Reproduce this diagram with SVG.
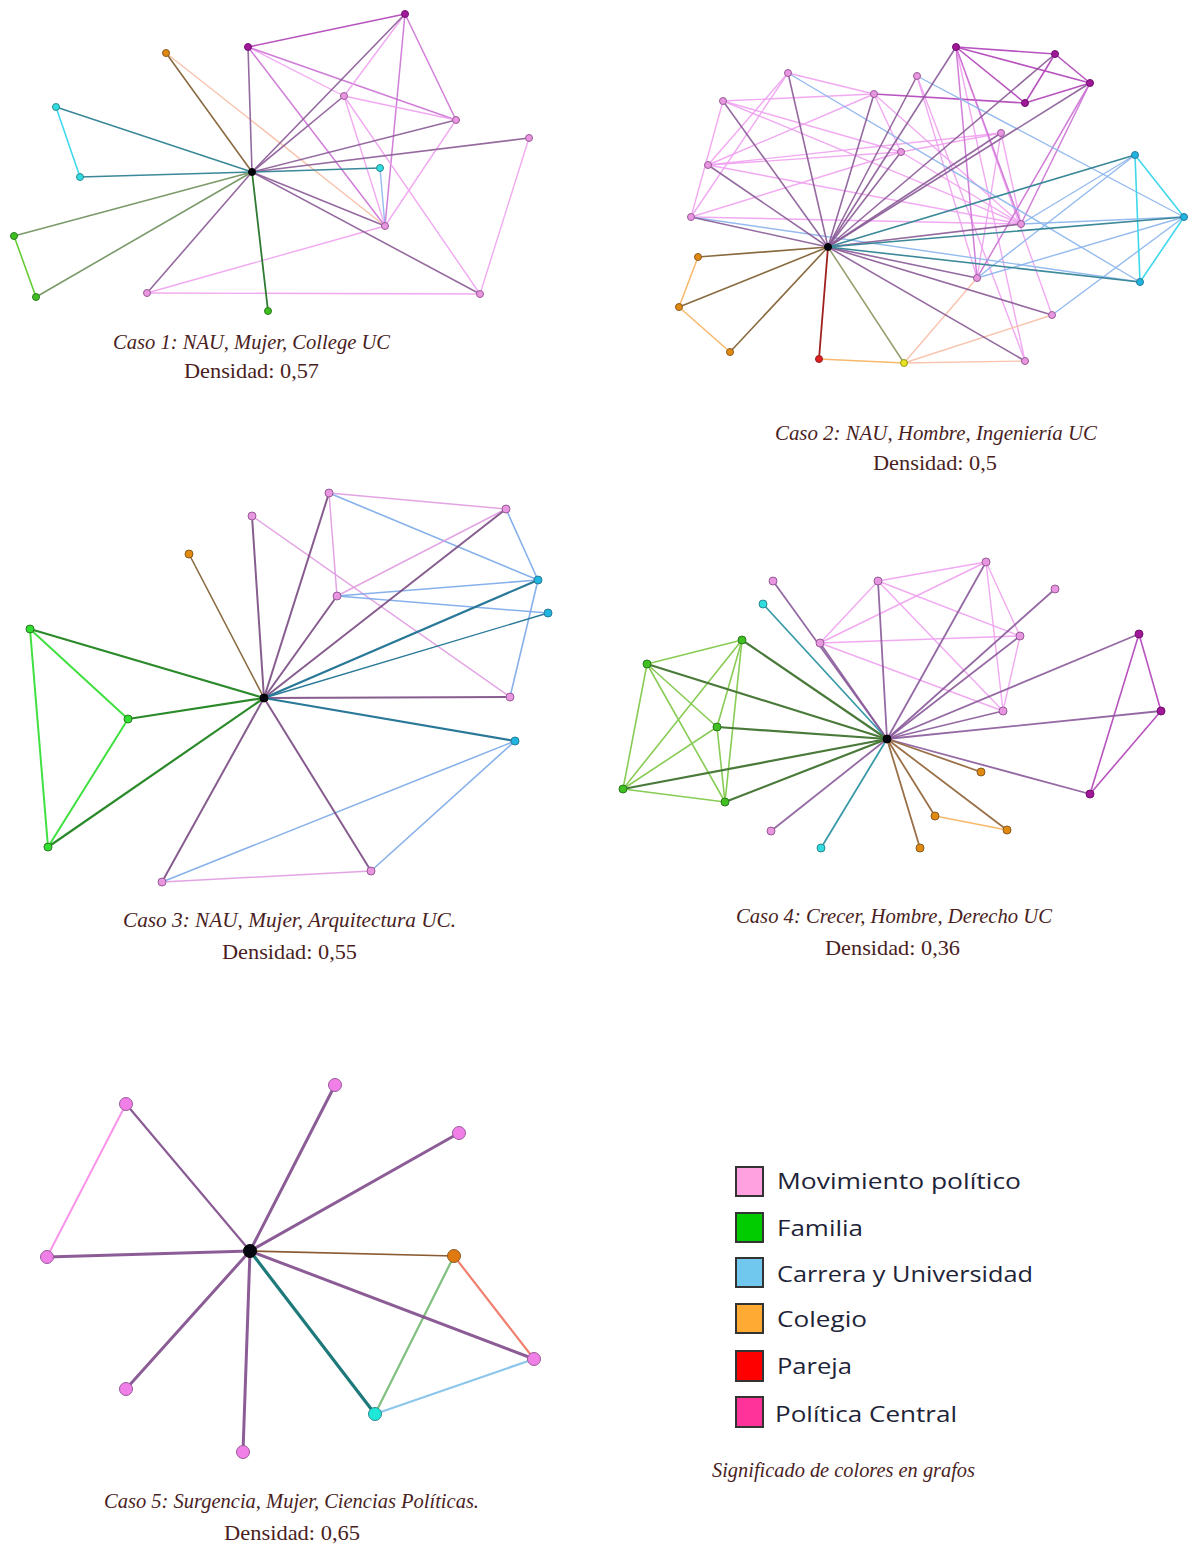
<svg xmlns="http://www.w3.org/2000/svg" width="1189" height="1546" viewBox="0 0 1189 1546">
<style>
line{fill:none;stroke-linecap:round}
.pu{stroke:#8a5a96;stroke-width:1.6;opacity:.9}
.pk{stroke:#f0a0f0;stroke-width:1.4;opacity:.9}
.mg{stroke:#b040b8;stroke-width:1.6;opacity:.9}
.ml{stroke:#cc70d4;stroke-width:1.5;opacity:.9}
.tl{stroke:#3a8898;stroke-width:1.6}
.lb{stroke:#8ab4ec;stroke-width:1.4;opacity:.9}
.cy{stroke:#40d8ec;stroke-width:1.6}
.dg{stroke:#2f7a33;stroke-width:1.8}
.gg{stroke:#7a9a6a;stroke-width:1.6}
.lg{stroke:#66cc33;stroke-width:1.6}
.br{stroke:#8a6a40;stroke-width:1.6}
.lo{stroke:#f8b86a;stroke-width:1.5}
.pe{stroke:#f8c4ae;stroke-width:1.4}
.dr{stroke:#a02020;stroke-width:1.8}
.ol{stroke:#98a070;stroke-width:1.6}
.g3 .pu{stroke:#7a4a82;stroke-width:2}
.g3 .dg{stroke:#2a8a2a;stroke-width:2.2}
.g3 .lg{stroke:#40e040;stroke-width:2}
.g3 .tl{stroke:#2a7898;stroke-width:2.2}
.g3 .lb{stroke:#7aa8e8;stroke-width:1.6}
.g3 .pk{stroke:#e09ae0;stroke-width:1.5}
.g4 .dg{stroke:#4a7a3a;stroke-width:2.2}
.g4 .lg{stroke:#88cc55;stroke-width:1.6}
.g4 .pu{stroke:#8a5a9a;stroke-width:1.8}
.g4 .tl{stroke:#3a9aa8;stroke-width:1.8}
.g4 .br{stroke:#9a7048;stroke-width:1.8}
.g5 .pu{stroke:#7e4a8a;stroke-width:3}
.g5 .tl{stroke:#1e7a7a;stroke-width:3.2}
.g5 .br{stroke:#8a5a30;stroke-width:1.6}
.g5 .pk{stroke:#f888e8;stroke-width:2}
.g5 .sa{stroke:#f08070;stroke-width:2.2}
.g5 .gn{stroke:#80c080;stroke-width:2.2}
.g5 .lb{stroke:#80c0e8;stroke-width:2.2}
circle{stroke-width:1}
.npk{fill:#e896e0;stroke:#9a5a9a}
.nmg{fill:#a01898;stroke:#701070}
.ncy{fill:#30dce0;stroke:#2a8a90}
.nbl{fill:#20b4e0;stroke:#2a7a9a}
.nor{fill:#e08a10;stroke:#8a5a20}
.ngr{fill:#40c020;stroke:#2a7a20}
.nrd{fill:#e02020;stroke:#902020}
.nye{fill:#e8e020;stroke:#9a9a20}
.nc{fill:#050510;stroke:#000}
.cap{font-family:"Liberation Serif",serif;font-style:italic;font-size:22px;fill:#4a1e1e}
.den{font-family:"Liberation Serif",serif;font-size:22px;fill:#4a1e1e}
.leg{font-family:"Open Sans","Liberation Sans",sans-serif;font-size:22px;font-weight:500;fill:#1e2438}
.sq{stroke:#333;stroke-width:2}
</style>

<!-- ============ GRAPH 1 ============ -->
<g id="graph1">
<g id="g1-edges">
<line class="pe" x1="166" y1="53" x2="385" y2="226"/>
<line class="cy" x1="56" y1="107" x2="80" y2="177"/>
<line class="lg" x1="14" y1="236" x2="36" y2="297"/>
<line class="pk" x1="147" y1="293" x2="385" y2="226"/>
<line class="pk" x1="147" y1="293" x2="480" y2="294"/>
<line class="mg" x1="248" y1="47" x2="405" y2="14"/>
<line class="pk" x1="248" y1="47" x2="344" y2="96"/>
<line class="ml" x1="248" y1="47" x2="456" y2="120"/>
<line class="ml" x1="248" y1="47" x2="385" y2="226"/>
<line class="pk" x1="405" y1="14" x2="344" y2="96"/>
<line class="ml" x1="405" y1="14" x2="456" y2="120"/>
<line class="ml" x1="405" y1="14" x2="385" y2="226"/>
<line class="pk" x1="344" y1="96" x2="456" y2="120"/>
<line class="pk" x1="344" y1="96" x2="385" y2="226"/>
<line class="pk" x1="344" y1="96" x2="480" y2="294"/>
<line class="pk" x1="456" y1="120" x2="385" y2="226"/>
<line class="pk" x1="529" y1="138" x2="480" y2="294"/>
<line class="lb" x1="380" y1="168" x2="385" y2="226"/>
<line class="br" x1="252" y1="172" x2="166" y2="53"/>
<line class="pu" x1="252" y1="172" x2="248" y2="47"/>
<line class="tl" x1="252" y1="172" x2="56" y2="107"/>
<line class="tl" x1="252" y1="172" x2="80" y2="177"/>
<line class="gg" x1="252" y1="172" x2="14" y2="236"/>
<line class="gg" x1="252" y1="172" x2="36" y2="297"/>
<line class="pu" x1="252" y1="172" x2="147" y2="293"/>
<line class="dg" x1="252" y1="172" x2="268" y2="311"/>
<line class="pu" x1="252" y1="172" x2="405" y2="14"/>
<line class="pu" x1="252" y1="172" x2="344" y2="96"/>
<line class="pu" x1="252" y1="172" x2="456" y2="120"/>
<line class="pu" x1="252" y1="172" x2="529" y2="138"/>
<line class="tl" x1="252" y1="172" x2="380" y2="168"/>
<line class="pu" x1="252" y1="172" x2="385" y2="226"/>
<line class="pu" x1="252" y1="172" x2="480" y2="294"/>
</g>
<g id="g1-n-center"><circle class="nc" cx="252" cy="172" r="3.5"/></g>
<g id="g1-n-a"><circle class="nor" cx="166" cy="53" r="3.5"/></g>
<g id="g1-n-b"><circle class="nmg" cx="248" cy="47" r="3.5"/></g>
<g id="g1-n-c"><circle class="ncy" cx="56" cy="107" r="3.5"/></g>
<g id="g1-n-d"><circle class="ncy" cx="80" cy="177" r="3.5"/></g>
<g id="g1-n-e"><circle class="ngr" cx="14" cy="236" r="3.5"/></g>
<g id="g1-n-f"><circle class="ngr" cx="36" cy="297" r="3.5"/></g>
<g id="g1-n-g"><circle class="npk" cx="147" cy="293" r="3.5"/></g>
<g id="g1-n-h"><circle class="ngr" cx="268" cy="311" r="3.5"/></g>
<g id="g1-n-i"><circle class="nmg" cx="405" cy="14" r="3.5"/></g>
<g id="g1-n-j"><circle class="npk" cx="344" cy="96" r="3.5"/></g>
<g id="g1-n-k"><circle class="npk" cx="456" cy="120" r="3.5"/></g>
<g id="g1-n-l"><circle class="npk" cx="529" cy="138" r="3.5"/></g>
<g id="g1-n-m"><circle class="ncy" cx="380" cy="168" r="3.5"/></g>
<g id="g1-n-n"><circle class="npk" cx="385" cy="226" r="3.5"/></g>
<g id="g1-n-o"><circle class="npk" cx="480" cy="294" r="3.5"/></g>
<text class="cap" x="113" y="349" textLength="277" lengthAdjust="spacingAndGlyphs">Caso 1: NAU, Mujer, College UC</text>
<text class="den" x="184" y="378" textLength="135" lengthAdjust="spacingAndGlyphs">Densidad: 0,57</text>
</g>

<!-- ============ GRAPH 2 ============ -->
<g id="graph2">
<g id="g2-edges">
<line class="pk" x1="788" y1="73" x2="874" y2="94"/>
<line class="pk" x1="788" y1="73" x2="708" y2="165"/>
<line class="pk" x1="788" y1="73" x2="691" y2="217"/>
<line class="pk" x1="723" y1="101" x2="874" y2="94"/>
<line class="pk" x1="723" y1="101" x2="901" y2="152"/>
<line class="pk" x1="723" y1="101" x2="1021" y2="224"/>
<line class="pk" x1="723" y1="101" x2="691" y2="217"/>
<line class="pk" x1="708" y1="165" x2="874" y2="94"/>
<line class="pk" x1="708" y1="165" x2="901" y2="152"/>
<line class="pk" x1="708" y1="165" x2="1021" y2="224"/>
<line class="pk" x1="708" y1="165" x2="1001" y2="133"/>
<line class="pk" x1="691" y1="217" x2="901" y2="152"/>
<line class="pk" x1="691" y1="217" x2="1021" y2="224"/>
<line class="pk" x1="874" y1="94" x2="901" y2="152"/>
<line class="pk" x1="874" y1="94" x2="1021" y2="224"/>
<line class="pk" x1="901" y1="152" x2="1021" y2="224"/>
<line class="pk" x1="901" y1="152" x2="1001" y2="133"/>
<line class="pk" x1="917" y1="76" x2="977" y2="278"/>
<line class="pk" x1="917" y1="76" x2="1025" y2="361"/>
<line class="pk" x1="1001" y1="133" x2="977" y2="278"/>
<line class="pk" x1="1001" y1="133" x2="1021" y2="224"/>
<line class="pk" x1="956" y1="47" x2="1052" y2="315"/>
<line class="pk" x1="956" y1="47" x2="1025" y2="361"/>
<line class="mg" x1="874" y1="94" x2="1025" y2="103"/>
<line class="mg" x1="956" y1="47" x2="1055" y2="54"/>
<line class="mg" x1="956" y1="47" x2="1090" y2="83"/>
<line class="mg" x1="956" y1="47" x2="1025" y2="103"/>
<line class="ml" x1="956" y1="47" x2="1021" y2="224"/>
<line class="ml" x1="956" y1="47" x2="977" y2="278"/>
<line class="mg" x1="1055" y1="54" x2="1090" y2="83"/>
<line class="mg" x1="1055" y1="54" x2="1025" y2="103"/>
<line class="mg" x1="1090" y1="83" x2="1025" y2="103"/>
<line class="ml" x1="1090" y1="83" x2="1021" y2="224"/>
<line class="ml" x1="1090" y1="83" x2="977" y2="278"/>
<line class="lb" x1="788" y1="73" x2="1140" y2="282"/>
<line class="lb" x1="917" y1="76" x2="1184" y2="217"/>
<line class="lb" x1="691" y1="217" x2="1140" y2="282"/>
<line class="lb" x1="1135" y1="155" x2="1021" y2="224"/>
<line class="lb" x1="1135" y1="155" x2="977" y2="278"/>
<line class="lb" x1="1184" y1="217" x2="1021" y2="224"/>
<line class="lb" x1="1184" y1="217" x2="977" y2="278"/>
<line class="lb" x1="1184" y1="217" x2="1052" y2="315"/>
<line class="cy" x1="1135" y1="155" x2="1184" y2="217"/>
<line class="cy" x1="1184" y1="217" x2="1140" y2="282"/>
<line class="cy" x1="1135" y1="155" x2="1140" y2="282"/>
<line class="lo" x1="698" y1="257" x2="679" y2="307"/>
<line class="lo" x1="679" y1="307" x2="730" y2="352"/>
<line class="lo" x1="819" y1="359" x2="904" y2="363"/>
<line class="pe" x1="904" y1="363" x2="977" y2="278"/>
<line class="pe" x1="904" y1="363" x2="1052" y2="315"/>
<line class="pe" x1="904" y1="363" x2="1025" y2="361"/>
<line class="pu" x1="828" y1="247" x2="788" y2="73"/>
<line class="pu" x1="828" y1="247" x2="723" y2="101"/>
<line class="pu" x1="828" y1="247" x2="708" y2="165"/>
<line class="pu" x1="828" y1="247" x2="691" y2="217"/>
<line class="pu" x1="828" y1="247" x2="874" y2="94"/>
<line class="pu" x1="828" y1="247" x2="917" y2="76"/>
<line class="pu" x1="828" y1="247" x2="901" y2="152"/>
<line class="pu" x1="828" y1="247" x2="956" y2="47"/>
<line class="pu" x1="828" y1="247" x2="1055" y2="54"/>
<line class="pu" x1="828" y1="247" x2="1090" y2="83"/>
<line class="pu" x1="828" y1="247" x2="1001" y2="133"/>
<line class="pu" x1="828" y1="247" x2="1021" y2="224"/>
<line class="pu" x1="828" y1="247" x2="977" y2="278"/>
<line class="pu" x1="828" y1="247" x2="1052" y2="315"/>
<line class="pu" x1="828" y1="247" x2="1025" y2="361"/>
<line class="tl" x1="828" y1="247" x2="1135" y2="155"/>
<line class="tl" x1="828" y1="247" x2="1184" y2="217"/>
<line class="tl" x1="828" y1="247" x2="1140" y2="282"/>
<line class="br" x1="828" y1="247" x2="698" y2="257"/>
<line class="br" x1="828" y1="247" x2="679" y2="307"/>
<line class="br" x1="828" y1="247" x2="730" y2="352"/>
<line class="dr" x1="828" y1="247" x2="819" y2="359"/>
<line class="ol" x1="828" y1="247" x2="904" y2="363"/>
</g>
<g id="g2-n-center"><circle class="nc" cx="828" cy="247" r="3.5"/></g>
<g id="g2-n-p1"><circle class="npk" cx="788" cy="73" r="3.5"/></g>
<g id="g2-n-p2"><circle class="npk" cx="723" cy="101" r="3.5"/></g>
<g id="g2-n-p3"><circle class="npk" cx="708" cy="165" r="3.5"/></g>
<g id="g2-n-p4"><circle class="npk" cx="691" cy="217" r="3.5"/></g>
<g id="g2-n-p5"><circle class="npk" cx="874" cy="94" r="3.5"/></g>
<g id="g2-n-p6"><circle class="npk" cx="917" cy="76" r="3.5"/></g>
<g id="g2-n-p7"><circle class="npk" cx="901" cy="152" r="3.5"/></g>
<g id="g2-n-q1"><circle class="nmg" cx="956" cy="47" r="3.5"/></g>
<g id="g2-n-q2"><circle class="nmg" cx="1055" cy="54" r="3.5"/></g>
<g id="g2-n-q3"><circle class="nmg" cx="1090" cy="83" r="3.5"/></g>
<g id="g2-n-q4"><circle class="nmg" cx="1025" cy="103" r="3.5"/></g>
<g id="g2-n-r1"><circle class="npk" cx="1001" cy="133" r="3.5"/></g>
<g id="g2-n-r2"><circle class="npk" cx="1021" cy="224" r="3.5"/></g>
<g id="g2-n-r3"><circle class="npk" cx="977" cy="278" r="3.5"/></g>
<g id="g2-n-r4"><circle class="npk" cx="1052" cy="315" r="3.5"/></g>
<g id="g2-n-r5"><circle class="npk" cx="1025" cy="361" r="3.5"/></g>
<g id="g2-n-s1"><circle class="nbl" cx="1135" cy="155" r="3.5"/></g>
<g id="g2-n-s2"><circle class="nbl" cx="1184" cy="217" r="3.5"/></g>
<g id="g2-n-s3"><circle class="nbl" cx="1140" cy="282" r="3.5"/></g>
<g id="g2-n-o1"><circle class="nor" cx="698" cy="257" r="3.5"/></g>
<g id="g2-n-o2"><circle class="nor" cx="679" cy="307" r="3.5"/></g>
<g id="g2-n-o3"><circle class="nor" cx="730" cy="352" r="3.5"/></g>
<g id="g2-n-red"><circle class="nrd" cx="819" cy="359" r="3.5"/></g>
<g id="g2-n-yel"><circle class="nye" cx="904" cy="363" r="3.5"/></g>
<text class="cap" x="775" y="440" textLength="322" lengthAdjust="spacingAndGlyphs">Caso 2: NAU, Hombre, Ingeniería UC</text>
<text class="den" x="873" y="470" textLength="124" lengthAdjust="spacingAndGlyphs">Densidad: 0,5</text>
</g>

<!-- ============ GRAPH 3 ============ -->
<g id="graph3" class="g3">
<g id="g3-edges">
<line class="pk" x1="252" y1="516" x2="510" y2="697"/>
<line class="lg" x1="30" y1="629" x2="128" y2="719"/>
<line class="lg" x1="30" y1="629" x2="48" y2="847"/>
<line class="lg" x1="128" y1="719" x2="48" y2="847"/>
<line class="lb" x1="162" y1="882" x2="515" y2="741"/>
<line class="pk" x1="162" y1="882" x2="371" y2="871"/>
<line class="pk" x1="329" y1="493" x2="506" y2="509"/>
<line class="pk" x1="329" y1="493" x2="337" y2="596"/>
<line class="lb" x1="329" y1="493" x2="538" y2="580"/>
<line class="pk" x1="337" y1="596" x2="506" y2="509"/>
<line class="lb" x1="337" y1="596" x2="538" y2="580"/>
<line class="lb" x1="337" y1="596" x2="548" y2="613"/>
<line class="lb" x1="506" y1="509" x2="538" y2="580"/>
<line class="lb" x1="538" y1="580" x2="510" y2="697"/>
<line class="lb" x1="515" y1="741" x2="371" y2="871"/>
<line class="pu" x1="264" y1="698" x2="252" y2="516"/>
<line class="br" x1="264" y1="698" x2="189" y2="554"/>
<line class="dg" x1="264" y1="698" x2="30" y2="629"/>
<line class="dg" x1="264" y1="698" x2="128" y2="719"/>
<line class="dg" x1="264" y1="698" x2="48" y2="847"/>
<line class="pu" x1="264" y1="698" x2="162" y2="882"/>
<line class="pu" x1="264" y1="698" x2="329" y2="493"/>
<line class="pu" x1="264" y1="698" x2="337" y2="596"/>
<line class="pu" x1="264" y1="698" x2="506" y2="509"/>
<line class="tl" x1="264" y1="698" x2="538" y2="580"/>
<line class="tl" x1="264" y1="698" x2="548" y2="613" style="stroke-width:1.4"/>
<line class="pu" x1="264" y1="698" x2="510" y2="697"/>
<line class="tl" x1="264" y1="698" x2="515" y2="741"/>
<line class="pu" x1="264" y1="698" x2="371" y2="871"/>
</g>
<g id="g3-n-center"><circle class="nc" cx="264" cy="698" r="4"/></g>
<g id="g3-n-a"><circle class="npk" cx="252" cy="516" r="4"/></g>
<g id="g3-n-b"><circle class="nor" cx="189" cy="554" r="4"/></g>
<g id="g3-n-c"><circle class="ngr" cx="30" cy="629" r="4" style="fill:#30e030"/></g>
<g id="g3-n-d"><circle class="ngr" cx="128" cy="719" r="4" style="fill:#30e030"/></g>
<g id="g3-n-e"><circle class="ngr" cx="48" cy="847" r="4" style="fill:#30e030"/></g>
<g id="g3-n-f"><circle class="npk" cx="162" cy="882" r="4"/></g>
<g id="g3-n-g"><circle class="npk" cx="329" cy="493" r="4"/></g>
<g id="g3-n-h"><circle class="npk" cx="506" cy="509" r="4"/></g>
<g id="g3-n-i"><circle class="nbl" cx="538" cy="580" r="4"/></g>
<g id="g3-n-j"><circle class="nbl" cx="548" cy="613" r="4"/></g>
<g id="g3-n-k"><circle class="npk" cx="337" cy="596" r="4"/></g>
<g id="g3-n-l"><circle class="npk" cx="510" cy="697" r="4"/></g>
<g id="g3-n-m"><circle class="nbl" cx="515" cy="741" r="4"/></g>
<g id="g3-n-n"><circle class="npk" cx="371" cy="871" r="4"/></g>
<text class="cap" x="123" y="927" textLength="333" lengthAdjust="spacingAndGlyphs">Caso 3: NAU, Mujer, Arquitectura UC.</text>
<text class="den" x="222" y="959" textLength="135" lengthAdjust="spacingAndGlyphs">Densidad: 0,55</text>
</g>

<!-- ============ GRAPH 4 ============ -->
<g id="graph4" class="g4">
<g id="g4-edges">
<line class="lg" x1="742" y1="640" x2="647" y2="664"/>
<line class="lg" x1="742" y1="640" x2="717" y2="727"/>
<line class="lg" x1="742" y1="640" x2="623" y2="789"/>
<line class="lg" x1="742" y1="640" x2="725" y2="802"/>
<line class="lg" x1="647" y1="664" x2="717" y2="727"/>
<line class="lg" x1="647" y1="664" x2="623" y2="789"/>
<line class="lg" x1="647" y1="664" x2="725" y2="802"/>
<line class="lg" x1="717" y1="727" x2="623" y2="789"/>
<line class="lg" x1="717" y1="727" x2="725" y2="802"/>
<line class="lg" x1="623" y1="789" x2="725" y2="802"/>
<line class="pk" x1="820" y1="643" x2="878" y2="581"/>
<line class="pk" x1="820" y1="643" x2="986" y2="562"/>
<line class="pk" x1="820" y1="643" x2="1020" y2="636"/>
<line class="pk" x1="820" y1="643" x2="1003" y2="711"/>
<line class="pk" x1="878" y1="581" x2="986" y2="562"/>
<line class="pk" x1="878" y1="581" x2="1020" y2="636"/>
<line class="pk" x1="878" y1="581" x2="1003" y2="711"/>
<line class="pk" x1="986" y1="562" x2="1020" y2="636"/>
<line class="pk" x1="986" y1="562" x2="1003" y2="711"/>
<line class="pk" x1="1020" y1="636" x2="1003" y2="711"/>
<line class="mg" x1="1139" y1="634" x2="1161" y2="711"/>
<line class="mg" x1="1139" y1="634" x2="1090" y2="794"/>
<line class="mg" x1="1161" y1="711" x2="1090" y2="794"/>
<line class="lo" x1="935" y1="816" x2="1007" y2="830"/>
<line class="pu" x1="887" y1="739" x2="773" y2="581"/>
<line class="tl" x1="887" y1="739" x2="763" y2="604"/>
<line class="pu" x1="887" y1="739" x2="820" y2="643"/>
<line class="pu" x1="887" y1="739" x2="878" y2="581"/>
<line class="dg" x1="887" y1="739" x2="742" y2="640"/>
<line class="dg" x1="887" y1="739" x2="647" y2="664"/>
<line class="dg" x1="887" y1="739" x2="717" y2="727"/>
<line class="dg" x1="887" y1="739" x2="623" y2="789"/>
<line class="dg" x1="887" y1="739" x2="725" y2="802"/>
<line class="pu" x1="887" y1="739" x2="771" y2="831"/>
<line class="tl" x1="887" y1="739" x2="821" y2="848"/>
<line class="pu" x1="887" y1="739" x2="986" y2="562"/>
<line class="pu" x1="887" y1="739" x2="1055" y2="589"/>
<line class="pu" x1="887" y1="739" x2="1020" y2="636"/>
<line class="pu" x1="887" y1="739" x2="1003" y2="711"/>
<line class="pu" x1="887" y1="739" x2="1139" y2="634"/>
<line class="pu" x1="887" y1="739" x2="1161" y2="711"/>
<line class="pu" x1="887" y1="739" x2="1090" y2="794"/>
<line class="br" x1="887" y1="739" x2="981" y2="772"/>
<line class="br" x1="887" y1="739" x2="935" y2="816"/>
<line class="br" x1="887" y1="739" x2="1007" y2="830"/>
<line class="br" x1="887" y1="739" x2="920" y2="848"/>
</g>
<g id="g4-n-center"><circle class="nc" cx="887" cy="739" r="4"/></g>
<g id="g4-n-a"><circle class="npk" cx="773" cy="581" r="4"/></g>
<g id="g4-n-b"><circle class="ncy" cx="763" cy="604" r="4"/></g>
<g id="g4-n-c"><circle class="npk" cx="820" cy="643" r="4"/></g>
<g id="g4-n-d"><circle class="npk" cx="878" cy="581" r="4"/></g>
<g id="g4-n-g1"><circle class="ngr" cx="742" cy="640" r="4"/></g>
<g id="g4-n-g2"><circle class="ngr" cx="647" cy="664" r="4"/></g>
<g id="g4-n-g3"><circle class="ngr" cx="717" cy="727" r="4"/></g>
<g id="g4-n-g4"><circle class="ngr" cx="623" cy="789" r="4"/></g>
<g id="g4-n-g5"><circle class="ngr" cx="725" cy="802" r="4"/></g>
<g id="g4-n-e"><circle class="npk" cx="771" cy="831" r="4"/></g>
<g id="g4-n-f"><circle class="ncy" cx="821" cy="848" r="4"/></g>
<g id="g4-n-g"><circle class="npk" cx="986" cy="562" r="4"/></g>
<g id="g4-n-h"><circle class="npk" cx="1055" cy="589" r="4"/></g>
<g id="g4-n-i"><circle class="npk" cx="1020" cy="636" r="4"/></g>
<g id="g4-n-j"><circle class="npk" cx="1003" cy="711" r="4"/></g>
<g id="g4-n-k"><circle class="nmg" cx="1139" cy="634" r="4"/></g>
<g id="g4-n-l"><circle class="nmg" cx="1161" cy="711" r="4"/></g>
<g id="g4-n-m"><circle class="nmg" cx="1090" cy="794" r="4"/></g>
<g id="g4-n-n"><circle class="nor" cx="981" cy="772" r="4"/></g>
<g id="g4-n-o"><circle class="nor" cx="935" cy="816" r="4"/></g>
<g id="g4-n-p"><circle class="nor" cx="1007" cy="830" r="4"/></g>
<g id="g4-n-q"><circle class="nor" cx="920" cy="848" r="4"/></g>
<text class="cap" x="736" y="923" textLength="316" lengthAdjust="spacingAndGlyphs">Caso 4: Crecer, Hombre, Derecho UC</text>
<text class="den" x="825" y="955" textLength="135" lengthAdjust="spacingAndGlyphs">Densidad: 0,36</text>
</g>

<!-- ============ GRAPH 5 ============ -->
<g id="graph5" class="g5">
<g id="g5-edges">
<line class="pk" x1="126" y1="1104" x2="47" y2="1257"/>
<line class="sa" x1="454" y1="1256" x2="534" y2="1359"/>
<line class="gn" x1="454" y1="1256" x2="375" y2="1414"/>
<line class="lb" x1="375" y1="1414" x2="534" y2="1359"/>
<line class="pu" x1="250" y1="1251" x2="126" y2="1104" style="stroke-width:2.2"/>
<line class="pu" x1="250" y1="1251" x2="335" y2="1085"/>
<line class="pu" x1="250" y1="1251" x2="459" y2="1133"/>
<line class="pu" x1="250" y1="1251" x2="47" y2="1257"/>
<line class="br" x1="250" y1="1251" x2="454" y2="1256"/>
<line class="pu" x1="250" y1="1251" x2="534" y2="1359"/>
<line class="tl" x1="250" y1="1251" x2="375" y2="1414"/>
<line class="pu" x1="250" y1="1251" x2="126" y2="1389"/>
<line class="pu" x1="250" y1="1251" x2="243" y2="1452"/>
</g>
<g id="g5-n-center"><circle class="nc" cx="250" cy="1251" r="6.5"/></g>
<g id="g5-n-a"><circle class="npk" cx="126" cy="1104" r="6.5" style="fill:#f080e8"/></g>
<g id="g5-n-b"><circle class="npk" cx="335" cy="1085" r="6.5" style="fill:#f080e8"/></g>
<g id="g5-n-c"><circle class="npk" cx="459" cy="1133" r="6.5" style="fill:#f080e8"/></g>
<g id="g5-n-d"><circle class="npk" cx="47" cy="1257" r="6.5" style="fill:#f080e8"/></g>
<g id="g5-n-e"><circle class="nor" cx="454" cy="1256" r="6.5" style="fill:#e07a10"/></g>
<g id="g5-n-f"><circle class="npk" cx="534" cy="1359" r="6.5" style="fill:#f080e8"/></g>
<g id="g5-n-g"><circle class="ncy" cx="375" cy="1414" r="6.5" style="fill:#20e8d8"/></g>
<g id="g5-n-h"><circle class="npk" cx="126" cy="1389" r="6.5" style="fill:#f080e8"/></g>
<g id="g5-n-i"><circle class="npk" cx="243" cy="1452" r="6.5" style="fill:#f080e8"/></g>
<text class="cap" x="104" y="1508" textLength="375" lengthAdjust="spacingAndGlyphs">Caso 5: Surgencia, Mujer, Ciencias Políticas.</text>
<text class="den" x="224" y="1540" textLength="136" lengthAdjust="spacingAndGlyphs">Densidad: 0,65</text>
</g>

<!-- ============ LEGEND ============ -->
<g id="legend">
<rect class="sq" x="736" y="1167" width="27" height="29" fill="#ffa0e0"/>
<text class="leg" x="777" y="1189" textLength="244" lengthAdjust="spacingAndGlyphs">Movimiento político</text>
<rect class="sq" x="736" y="1213" width="27" height="29" fill="#00cc00"/>
<text class="leg" x="777" y="1236" textLength="86" lengthAdjust="spacingAndGlyphs">Familia</text>
<rect class="sq" x="736" y="1258" width="27" height="29" fill="#70c8ee"/>
<text class="leg" x="777" y="1282" textLength="256" lengthAdjust="spacingAndGlyphs">Carrera y Universidad</text>
<rect class="sq" x="736" y="1304" width="27" height="29" fill="#ffaa33"/>
<text class="leg" x="777" y="1327" textLength="90" lengthAdjust="spacingAndGlyphs">Colegio</text>
<rect class="sq" x="736" y="1351" width="27" height="30" fill="#ff0000"/>
<text class="leg" x="777" y="1374" textLength="75" lengthAdjust="spacingAndGlyphs">Pareja</text>
<rect class="sq" x="736" y="1397" width="27" height="30" fill="#ff3399"/>
<text class="leg" x="775" y="1422" textLength="182" lengthAdjust="spacingAndGlyphs">Política Central</text>
<text class="cap" x="712" y="1477" textLength="263" lengthAdjust="spacingAndGlyphs">Significado de colores en grafos</text>
</g>
</svg>
